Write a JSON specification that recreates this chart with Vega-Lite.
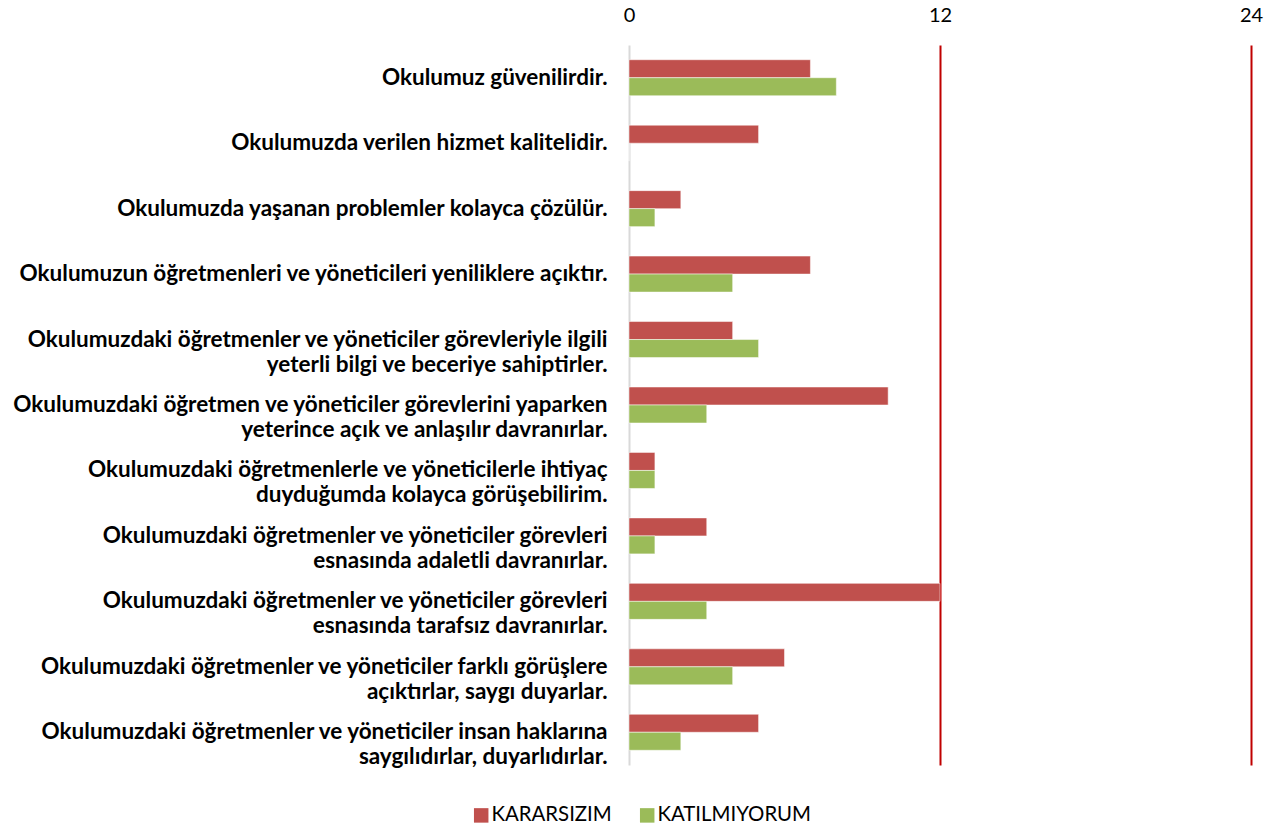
{
  "$schema": "https://vega.github.io/schema/vega-lite/v6.json",
  "width": 622,
  "height": 720,
  "autosize": "none",
  "padding": {"left": 629, "top": 45, "right": 22, "bottom": 64},
  "background": "white",
  "config": {
    "view": {"stroke": null},
    "font": "Lato"
  },
  "data": {
    "values": [
      {"q": "Okulumuz güvenilirdir.", "s": "KARARSIZIM", "v": 7},
      {"q": "Okulumuz güvenilirdir.", "s": "KATILMIYORUM", "v": 8},
      {"q": "Okulumuzda verilen hizmet kalitelidir.", "s": "KARARSIZIM", "v": 5},
      {"q": "Okulumuzda verilen hizmet kalitelidir.", "s": "KATILMIYORUM", "v": 0},
      {"q": "Okulumuzda yaşanan problemler kolayca çözülür.", "s": "KARARSIZIM", "v": 2},
      {"q": "Okulumuzda yaşanan problemler kolayca çözülür.", "s": "KATILMIYORUM", "v": 1},
      {"q": "Okulumuzun öğretmenleri ve yöneticileri yeniliklere açıktır.", "s": "KARARSIZIM", "v": 7},
      {"q": "Okulumuzun öğretmenleri ve yöneticileri yeniliklere açıktır.", "s": "KATILMIYORUM", "v": 4},
      {"q": "Okulumuzdaki öğretmenler ve yöneticiler görevleriyle ilgili\nyeterli bilgi ve beceriye sahiptirler.", "s": "KARARSIZIM", "v": 4},
      {"q": "Okulumuzdaki öğretmenler ve yöneticiler görevleriyle ilgili\nyeterli bilgi ve beceriye sahiptirler.", "s": "KATILMIYORUM", "v": 5},
      {"q": "Okulumuzdaki öğretmen ve yöneticiler görevlerini yaparken\nyeterince açık ve anlaşılır davranırlar.", "s": "KARARSIZIM", "v": 10},
      {"q": "Okulumuzdaki öğretmen ve yöneticiler görevlerini yaparken\nyeterince açık ve anlaşılır davranırlar.", "s": "KATILMIYORUM", "v": 3},
      {"q": "Okulumuzdaki öğretmenlerle ve yöneticilerle ihtiyaç\nduyduğumda kolayca görüşebilirim.", "s": "KARARSIZIM", "v": 1},
      {"q": "Okulumuzdaki öğretmenlerle ve yöneticilerle ihtiyaç\nduyduğumda kolayca görüşebilirim.", "s": "KATILMIYORUM", "v": 1},
      {"q": "Okulumuzdaki öğretmenler ve yöneticiler görevleri\nesnasında adaletli davranırlar.", "s": "KARARSIZIM", "v": 3},
      {"q": "Okulumuzdaki öğretmenler ve yöneticiler görevleri\nesnasında adaletli davranırlar.", "s": "KATILMIYORUM", "v": 1},
      {"q": "Okulumuzdaki öğretmenler ve yöneticiler görevleri\nesnasında tarafsız davranırlar.", "s": "KARARSIZIM", "v": 12},
      {"q": "Okulumuzdaki öğretmenler ve yöneticiler görevleri\nesnasında tarafsız davranırlar.", "s": "KATILMIYORUM", "v": 3},
      {"q": "Okulumuzdaki öğretmenler ve yöneticiler farklı görüşlere\naçıktırlar, saygı duyarlar.", "s": "KARARSIZIM", "v": 6},
      {"q": "Okulumuzdaki öğretmenler ve yöneticiler farklı görüşlere\naçıktırlar, saygı duyarlar.", "s": "KATILMIYORUM", "v": 4},
      {"q": "Okulumuzdaki öğretmenler ve yöneticiler insan haklarına\nsaygılıdırlar, duyarlıdırlar.", "s": "KARARSIZIM", "v": 5},
      {"q": "Okulumuzdaki öğretmenler ve yöneticiler insan haklarına\nsaygılıdırlar, duyarlıdırlar.", "s": "KATILMIYORUM", "v": 2}
    ]
  },
  "mark": {"type": "bar", "stroke": "white", "strokeOpacity": 0.5, "strokeWidth": 1},
  "encoding": {
    "y": {
      "field": "q",
      "type": "nominal",
      "sort": null,
      "title": null,
      "scale": {"paddingInner": 0.45, "paddingOuter": 0.225},
      "axis": {
        "domain": false,
        "ticks": false,
        "labelPadding": 22,
        "labelFont": "Lato",
        "labelFontWeight": "bold",
        "labelFontSize": 22.5,
        "labelColor": "#000000",
        "labelLimit": 700,
        "labelLineHeight": 25,
        "labelExpr": "split(datum.label, '\\n')"
      }
    },
    "yOffset": {
      "field": "s",
      "type": "nominal",
      "sort": ["KARARSIZIM", "KATILMIYORUM"],
      "scale": {"paddingInner": 0, "paddingOuter": 0}
    },
    "x": {
      "field": "v",
      "type": "quantitative",
      "title": null,
      "scale": {"domain": [0, 24], "nice": false},
      "axis": {
        "orient": "top",
        "values": [0, 12, 24],
        "domain": false,
        "ticks": false,
        "labelPadding": 20,
        "labelFont": "Lato",
        "labelFontSize": 20,
        "labelColor": "#000000",
        "labelFlush": false,
        "grid": true,
        "gridWidth": 2,
        "gridColor": {"condition": {"test": "datum.value === 0", "value": "#D9D9D9"}, "value": "#C00000"}
      }
    },
    "color": {
      "field": "s",
      "type": "nominal",
      "scale": {"domain": ["KARARSIZIM", "KATILMIYORUM"], "range": ["#C0504D", "#9BBB59"]},
      "legend": {
        "title": null,
        "orient": "none",
        "direction": "horizontal",
        "legendX": -158,
        "legendY": 760,
        "symbolType": "square",
        "symbolSize": 210,
        "symbolStrokeWidth": 0,
        "labelFont": "Lato",
        "labelFontSize": 20.4,
        "labelColor": "#000000",
        "columnPadding": 25,
        "labelOffset": 0
      }
    }
  }
}
